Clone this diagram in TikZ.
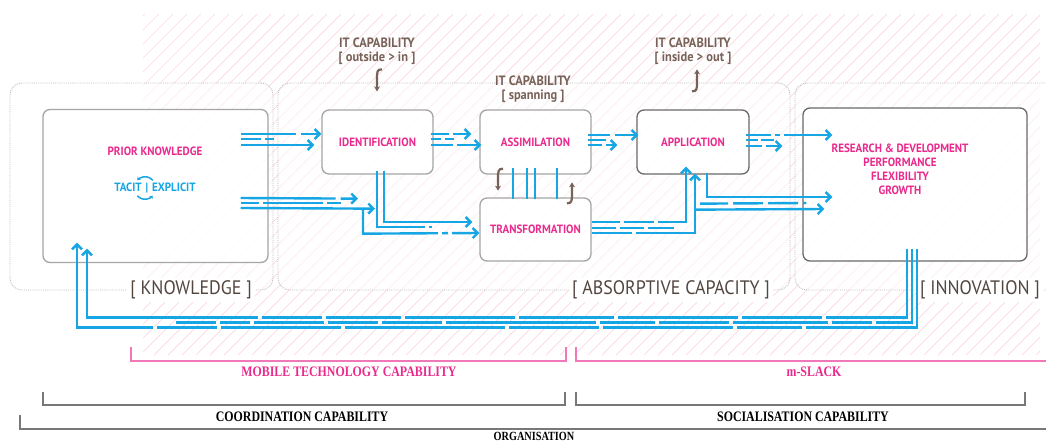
\documentclass[tikz,border=0pt]{standalone}
\usepackage{fontspec}
\setmainfont{PT Sans}
\newfontfamily\narrowsans{PT Sans}[FakeStretch=0.92]
\newfontfamily\capserif{Liberation Serif}[FakeStretch=0.82]
\usetikzlibrary{arrows.meta}
\definecolor{flowcyan}{RGB}{22,166,228}
\definecolor{stagepink}{RGB}{234,42,140}
\definecolor{bracketpink}{RGB}{240,120,185}
\definecolor{itbrown}{RGB}{120,98,88}
\definecolor{zonebrown}{RGB}{82,70,64}
\definecolor{boxgray}{RGB}{165,165,165}
\definecolor{darkbox}{RGB}{105,105,105}
\definecolor{outergray}{RGB}{190,190,190}
\definecolor{hatchpink}{RGB}{251,214,224}
\definecolor{bracketgray}{RGB}{120,120,120}
\tikzset{
  outerbox/.style={draw=outergray, densely dotted, line width=0.9pt, rounded corners=12pt,
    fill=white, fill opacity=0.55, inner sep=0pt},
  stagebox/.style={draw=boxgray, line width=1.3pt, rounded corners=7pt, fill=white,
    fill opacity=0.85, text opacity=1, inner sep=0pt, text=stagepink,
    font=\narrowsans\bfseries\fontsize{12}{14}\selectfont},
  resultbox/.style={stagebox, draw=darkbox},
  stagetext/.style={text=stagepink, font=\narrowsans\bfseries\fontsize{12}{14}\selectfont, align=center, inner sep=0pt},
  zonelabel/.style={text=zonebrown, fill=white, inner sep=3pt, font=\narrowsans\fontsize{19.5}{21}\selectfont},
  itlabel/.style={text=itbrown, align=center, inner sep=0pt, font=\narrowsans\bfseries\fontsize{13.5}{14}\selectfont},
  underlabel/.style={inner sep=0pt, font=\capserif\bfseries\fontsize{14.5}{16}\selectfont},
  hatch/.style={draw=hatchpink, line width=0.7pt},
  flow/.style={draw=flowcyan, line width=2.4pt},
  flowarrow/.style={flow, -{Straight Barb[length=5pt,width=10pt]}},
  itarrow/.style={draw=itbrown, line width=2.2pt, -{Stealth[length=5pt,width=6pt]}},
  cycarrow/.style={draw=flowcyan, line width=1.5pt, -{Stealth[length=3pt,width=4.5pt]}},
  pinkbracket/.style={draw=bracketpink, line width=1.2pt},
  graybracket/.style={draw=bracketgray, line width=1.1pt}
}
\begin{document}
\begin{tikzpicture}[x=1pt,y=-1pt]
      \clip (0,0) rectangle (1046,442);
      \begin{scope}
        \clip (143,14) rectangle (1040,355);
        \foreach \i in {-350,-336,...,1040}
          \draw[hatch] (\i,355) -- ++(341,-341);
      \end{scope}
      \node[outerbox, minimum width=263pt, minimum height=207pt] (know) at (141.5,186.5) {};
      \node[outerbox, minimum width=512pt, minimum height=207pt] (absorb) at (534,186.5) {};
      \node[outerbox, minimum width=270pt, minimum height=207pt] (innovzone) at (930,186.5) {};
      \node[zonelabel] (knowlab) at (191,290) {[ KNOWLEDGE ]};
      \node[zonelabel] (absorblab) at (671,290) {[ ABSORPTIVE CAPACITY ]};
      \node[zonelabel] (innovlab) at (980,290) {[ INNOVATION ]};
      \node[stagebox, minimum width=225pt, minimum height=153pt] (prior) at (155.5,186) {};
      \node[stagebox, minimum width=111pt, minimum height=64pt] (ident) at (377.5,142) {IDENTIFICATION};
      \node[stagebox, minimum width=111pt, minimum height=64pt] (assim) at (535.5,142) {ASSIMILATION};
      \node[stagebox, minimum width=111pt, minimum height=63pt] (trans) at (535.5,229.5) {TRANSFORMATION};
      \node[resultbox, minimum width=112pt, minimum height=64pt] (appl) at (693,142) {APPLICATION};
      \node[resultbox, minimum width=224pt, minimum height=153pt] (innov) at (915,184.5) {};
      \node[stagetext] (priortxt) at (155,151) {PRIOR KNOWLEDGE};
      \node[stagetext, text=flowcyan] (tacit) at (155,188) {TACIT\,\,|\,\,EXPLICIT};
      \node[stagetext] (results) at (900,169) {RESEARCH \& DEVELOPMENT\\PERFORMANCE\\FLEXIBILITY\\GROWTH};
      \node[itlabel] (itin) at (377,51) {IT CAPABILITY\\{[} outside > in ]};
      \node[itlabel] (itspan) at (533,89) {IT CAPABILITY\\{[} spanning ]};
      \node[itlabel] (itout) at (693,51) {IT CAPABILITY\\{[} inside > out ]};
      \draw[cycarrow] ([shift={(-2.3,-7.7)}]tacit.center) arc (-40:-140:10);
      \draw[cycarrow] ([shift={(-17.7,7.7)}]tacit.center) arc (140:40:10);
      \draw[itarrow] ([shift={(4.5,-40)}]ident.north) .. controls +(-5,0) and +(0,-8) .. ([shift={(-0.5,-30)}]ident.north) -- ([shift={(-0.5,-18)}]ident.north);
      \draw[itarrow] ([shift={(-1,-18)}]appl.north) .. controls +(5,0) and +(0,8) .. ([shift={(4,-28)}]appl.north) -- ([shift={(4,-40)}]appl.north);
      \draw[itarrow] ([shift={(-32.5,-6)}]assim.south) .. controls +(-5,0) and +(0,-7) .. ([shift={(-37.5,4)}]assim.south) -- ([shift={(-37.5,16)}]assim.south);
      \draw[itarrow] ([shift={(31.5,6)}]trans.north) .. controls +(5,0) and +(0,7) .. ([shift={(36.5,-4)}]trans.north) -- ([shift={(36.5,-15)}]trans.north);
      \begin{scope}
        \draw[flowarrow, dash pattern=on 55pt off 5pt on 40pt] ([shift={(-28,-52)}]prior.east) -- ([shift={(0,-8)}]ident.west);
        \draw[flow, dash pattern=on 20pt off 4pt on 9pt off 60pt] ([shift={(-28,-47)}]prior.east) -- ([shift={(5,-47)}]prior.east);
        \draw[flowarrow] ([shift={(-28,-41)}]prior.east) -- ([shift={(-7,3)}]ident.west);
        \draw[flowarrow, dash pattern=on 95pt off 5pt on 30pt] ([shift={(-28,12)}]prior.east) -- ([shift={(-19.5,24)}]ident.south);
        \draw[flow, dash pattern=on 18pt off 4pt on 60pt off 4pt on 14pt] ([shift={(-28,17)}]prior.east) -- ([shift={(72,17)}]prior.east);
        \draw[flowarrow] ([shift={(-28,22)}]prior.east) -- ([shift={(-2.5,34)}]ident.south);
        \draw[flowarrow, dash pattern=on 100pt off 4pt on 6pt off 4pt on 40pt] ([shift={(-14.5,34)}]ident.south) -- ++(0,25) -- ([shift={(0,3.5)}]trans.west);
        \draw[flowarrow] ([shift={(6.5,-4)}]ident.south) |- ([shift={(-7,-7.5)}]trans.west);
        \draw[flow, dash pattern=on 104pt off 4pt on 20pt] ([shift={(-0.5,-4)}]ident.south) |- ([shift={(-47,-2.5)}]trans.west);
        \draw[flowarrow, dash pattern=on 18pt off 4pt on 30pt] ([shift={(-3,-8)}]ident.east) -- ([shift={(-8,-8)}]assim.west);
        \draw[flow, dash pattern=on 10pt off 4pt on 20pt] ([shift={(-3,-3)}]ident.east) -- ([shift={(-25,-3)}]assim.west);
        \draw[flowarrow, dash pattern=on 22pt off 4pt on 40pt] ([shift={(-3,3)}]ident.east) -- ([shift={(2,3)}]assim.west);
        \draw[flowarrow, dash pattern=on 22pt off 5pt on 40pt] ([shift={(-4,-7)}]assim.east) -- ([shift={(2,-7)}]appl.west);
        \draw[flow] ([shift={(-4,-2)}]assim.east) -- ([shift={(14,-2)}]assim.east);
        \draw[flowarrow, dash pattern=on 14pt off 4pt on 30pt] ([shift={(-4,3)}]assim.east) -- ([shift={(-19,3)}]appl.west);
        \draw[flowarrow, dash pattern=on 25pt off 4pt on 5pt off 4pt on 100pt] ([shift={(-4,-7)}]appl.east) -- ([shift={(30,-49.5)}]innov.west);
        \draw[flow, dash pattern=on 12pt off 3pt on 13pt] ([shift={(-4,-2)}]appl.east) -- ([shift={(24,-2)}]appl.east);
        \draw[flowarrow, dash pattern=on 16pt off 4pt on 40pt] ([shift={(-4,4)}]appl.east) -- ([shift={(-20,-38.5)}]innov.west);
        \draw[flowarrow] ([shift={(14,-2)}]appl.south) |- ([shift={(30,12.5)}]innov.west);
        \draw[flow, dash pattern=on 28pt off 5pt on 30pt off 5pt on 30pt off 5pt] ([shift={(7,29)}]appl.south) -- ([shift={(4,18.5)}]innov.west);
        \draw[flowarrow, dash pattern=on 28pt off 4pt on 30pt off 4pt on 200pt] ([shift={(0,-7.5)}]trans.east) -| ([shift={(-7,-8)}]appl.south);
        \draw[flow, dash pattern=on 24pt off 4pt on 24pt off 4pt on 30pt] ([shift={(0,-1.5)}]trans.east) -- ([shift={(82,-1.5)}]trans.east);
        \draw[flowarrow, dash pattern=on 40pt off 4pt on 300pt] ([shift={(0,3.5)}]trans.east) -| ([shift={(2,-1)}]appl.south);
        \draw[flowarrow] ([shift={(2,35)}]appl.south) -- ([shift={(22,24.5)}]innov.west);
        \draw[flow] ([shift={(-22.5,-7)}]assim.south) -- ([shift={(-22.5,2)}]trans.north);
        \draw[flow] ([shift={(-8.5,-7)}]assim.south) -- ([shift={(-8.5,2)}]trans.north);
        \draw[flow] ([shift={(-0.5,-7)}]assim.south) -- ([shift={(-0.5,2)}]trans.north);
        \draw[flow] ([shift={(21.5,-7)}]assim.south) -- ([shift={(21.5,2)}]trans.north);
        \draw[flowarrow, dash pattern=on 150pt off 4pt on 80pt off 4pt on 120pt off 4pt on 95pt off 4pt on 110pt off 4pt on 75pt off 4pt on 60pt off 4pt on 330pt] ([shift={(-8,-13)}]innov.south) -- ++(0,69) -| ([shift={(-68.5,-14.5)}]prior.south);
        \draw[flow, dash pattern=on 110pt off 4pt on 40pt off 4pt on 95pt off 4pt on 70pt off 4pt on 55pt off 4pt on 150pt off 4pt on 60pt off 4pt on 50pt off 4pt on 70pt off 4pt on 30pt off 4pt on 40pt] ([shift={(-3,-13)}]innov.south) |- ([shift={(-50.5,59.5)}]prior.south);
        \draw[flowarrow, dash pattern=on 190pt off 4pt on 65pt off 4pt on 130pt off 4pt on 90pt off 4pt on 160pt off 4pt on 120pt off 4pt on 60pt off 4pt on 300pt] ([shift={(2,-13)}]innov.south) -- ++(0,79) -| ([shift={(-78.5,-20.5)}]prior.south);
      \end{scope}
      \draw[pinkbracket] (131,347) |- (566,361) -- (566,347);
      \draw[pinkbracket] (576,347) |- (1050,361);
      \draw[graybracket] (43,392) |- (565,405) -- (565,392);
      \draw[graybracket] (576,392) |- (1025,405) -- (1025,392);
      \draw[graybracket] (20,415) |- (1050,429);
      \node[underlabel, text=stagepink] (mobile) at (349,372) {MOBILE TECHNOLOGY CAPABILITY};
      \node[underlabel, text=stagepink] (slack) at (814,372) {m-SLACK};
      \node[underlabel] (coord) at (302,417) {COORDINATION CAPABILITY};
      \node[underlabel] (social) at (803,417) {SOCIALISATION CAPABILITY};
      \node[underlabel, anchor=south, font=\capserif\bfseries\fontsize{12.5}{14}\selectfont] (organ) at (534,441) {ORGANISATION};
\end{tikzpicture}
\end{document}
